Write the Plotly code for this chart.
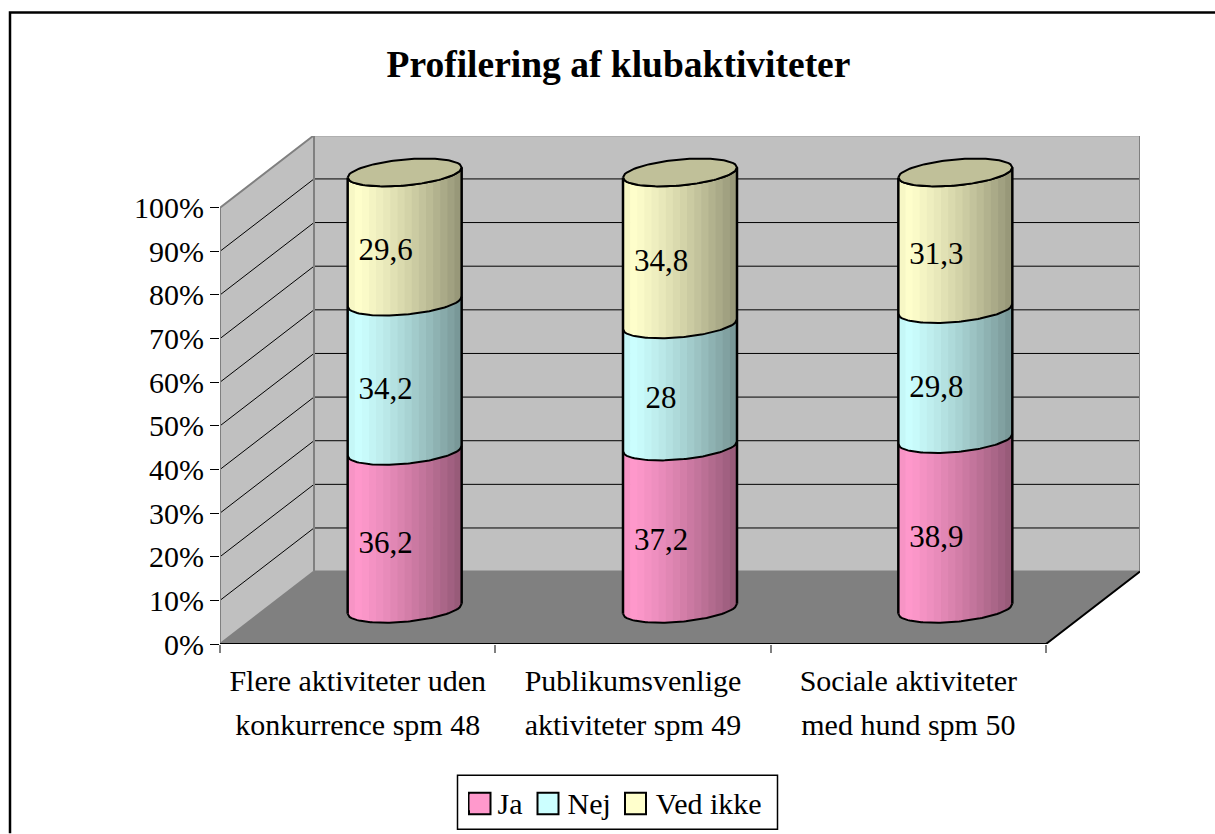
import numpy as np
import plotly.graph_objects as go

TITLE = "Profilering af klubaktiviteter"
CATEGORIES = [["Flere aktiviteter uden", "konkurrence spm 48"],
              ["Publikumsvenlige", "aktiviteter spm 49"],
              ["Sociale aktiviteter", "med hund spm 50"]]
SERIES = ["Ja", "Nej", "Ved ikke"]
JA = [36.2, 37.2, 38.9]
NEJ = [34.2, 28, 29.8]
VED_IKKE = [29.6, 34.8, 31.3]
LABELS = [["36,2", "37,2", "38,9"], ["34,2", "28", "29,8"], ["29,6", "34,8", "31,3"]]
YTICKS = list(range(0, 101, 10))
COLORS = [(255, 153, 204), (204, 255, 255), (255, 255, 204)]
SWATCH = ["#ff99cc", "#ccffff", "#ffffcc"]

W, H = 1215, 834
L, R, T, B = 220, 1140, 135.7, 644.5        # plot box in px
UX = (1046 - 220) / 3                       # px per category
UY = 4.37                                   # px per percent
DX = 94 / UX                                # depth in data units
DY = 72.5 / UY
X0 = -0.5
XMAX = X0 + (R - L) / UX
YMAX = (B - T) / UY
FONT = "Liberation Serif"


def pxx(px):
    return (px - L) / (R - L)


def pxy(py):
    return (B - py) / (B - T)


fig = go.Figure()


def poly(x, y, fill=None, line=None, width=1):
    fig.add_trace(go.Scatter(
        x=x, y=y, mode="lines" if line else "none",
        fill="toself" if fill else None, fillcolor=fill,
        line=dict(color=line or "rgba(0,0,0,0)", width=width),
        hoverinfo="skip", showlegend=False, cliponaxis=False))


# walls and floor
poly([X0 + DX, XMAX, XMAX, X0 + DX, X0 + DX], [DY, DY, 100 + DY, 100 + DY, DY], fill="#c0c0c0")
poly([X0, X0 + DX, X0 + DX, X0, X0], [0, DY, 100 + DY, 100, 0], fill="#c0c0c0")
poly([X0, X0 + 3, XMAX, X0 + DX, X0], [0, 0, DY, DY, 0], fill="#808080")

# gridlines
for v in YTICKS[1:-1]:
    poly([X0, X0 + DX, XMAX], [v, v + DY, v + DY], line="#000000", width=1)

# wall outlines
poly([X0, X0, X0 + DX, XMAX, XMAX], [0, 100, 100 + DY, 100 + DY, DY], line="#808080", width=2)
poly([X0 + DX, X0 + DX, None, X0 + DX, X0], [100 + DY, DY, None, DY, 0], line="#808080", width=2)
poly([X0 + DX, XMAX], [DY, DY], line="#808080", width=2)
poly([X0, X0 + 3, XMAX], [0, 0, DY], line="#000000", width=2)

# cylinders
HW = 57 / UX
A = 5 / UY
BB = 13 / UY
CY = DY / 2 - 1 / UY
N = 16
U = np.linspace(-1, 1, N + 1)
OVERLAP = 0.8 / UX


def front(u, base):
    u = np.asarray(u, float)
    return base + A * u - BB * np.sqrt(np.clip(1 - u * u, 0, 1))


def back(u, base):
    u = np.asarray(u, float)
    return base + A * u + BB * np.sqrt(np.clip(1 - u * u, 0, 1))


def shade(u):
    p = (u + 1) / 2
    if p < 0.08:
        return 0.95 + 0.05 * p / 0.08
    return 1.0 - 0.42 * ((p - 0.08) / 0.92) ** 1.25


STACK = [JA, NEJ, VED_IKKE]
for i in range(len(CATEGORIES)):
    cx = i + DX / 2
    bottom = 0.0
    for s, vals in enumerate(STACK):
        top = bottom + vals[i]
        for k in range(N):
            uu = np.linspace(U[k], U[k + 1], 5)
            f = shade((U[k] + U[k + 1]) / 2)
            c = COLORS[s]
            col = f"rgb({int(c[0]*f)},{int(c[1]*f)},{int(c[2]*f)})"
            xu = cx + HW * uu
            if k < N - 1:
                xu = xu + OVERLAP * np.linspace(0, 1, 5)
            xs = np.r_[xu, xu[::-1]]
            ys = np.r_[front(uu, CY + bottom), front(uu[::-1], CY + top)]
            poly(list(xs) + [xs[0]], list(ys) + [ys[0]], fill=col)
        bottom = top
    # outlines
    uu = np.linspace(-1, 1, 61)
    bottom = 0.0
    poly(cx + HW * uu, front(uu, CY), line="#000000", width=2)
    for s, vals in enumerate(STACK):
        bottom += vals[i]
        poly(cx + HW * uu, front(uu, CY + bottom), line="#000000", width=2)
    poly(list(cx + HW * uu) + list(cx + HW * uu[::-1]),
         list(back(uu, CY + bottom)) + list(front(uu[::-1], CY + bottom)),
         fill="#c0c099", line="#000000", width=2)
    poly([cx - HW, cx - HW], [front(-1, CY), front(-1, CY + bottom)], line="#000000", width=2.5)
    poly([cx + HW, cx + HW], [front(1, CY), front(1, CY + bottom)], line="#000000", width=2.5)

# value labels
for s, vals in enumerate(STACK):
    base = np.sum(STACK[:s], axis=0) if s else np.zeros(3)
    fig.add_trace(go.Scatter(
        x=[i + DX / 2 - 19 / UX for i in range(3)],
        y=[base[i] + vals[i] / 2 + CY - 15 / UY for i in range(3)],
        mode="text", text=LABELS[s],
        textfont=dict(family=FONT, size=31, color="#000000"),
        hoverinfo="skip", showlegend=False, cliponaxis=False))

# legend entries
for name, col in zip(SERIES, SWATCH):
    fig.add_trace(go.Scatter(
        x=[None], y=[None], name=name, mode="markers",
        marker=dict(symbol="square", size=16, color=col, line=dict(width=0))))


def sized(lines):
    return "<br>".join(f'<span style="font-size:30px">{t}</span>' for t in lines)


def px_rect(x0, y0, x1, y1, fill, line_color, width):
    return dict(type="rect", xref="paper", yref="paper", layer="above",
                x0=pxx(x0), x1=pxx(x1), y0=pxy(y1), y1=pxy(y0), fillcolor=fill,
                line=dict(color=line_color, width=width))


legend_shapes = [px_rect(457.5, 776, 777.5, 830, "#ffffff", "#000000", 1.5)]
for (x0, x1), col in zip([(469, 490.5), (537.5, 558.5), (625, 646)], SWATCH):
    legend_shapes.append(px_rect(x0, 793.5, x1, 815, col, "#000000", 2))

frame = dict(type="path", xref="paper", yref="paper", line=dict(color="#000000", width=2.5),
             path=f"M {pxx(10)} {pxy(H)} L {pxx(10)} {pxy(12)} L {pxx(W)} {pxy(12)}")

fig.update_layout(
    width=W, height=H, autosize=False,
    margin=dict(l=L, r=W - R, t=T, b=H - B, pad=0, autoexpand=False),
    paper_bgcolor="#ffffff", plot_bgcolor="rgba(0,0,0,0)",
    font=dict(family=FONT, color="#000000"),
    title=dict(text=f"<b>{TITLE}</b>", xref="paper", yref="container", x=pxx(618.5),
               xanchor="center", y=1 - 64 / H, yanchor="middle",
               font=dict(family=FONT, size=37.5, color="#000000")),
    xaxis=dict(range=[X0, XMAX], tickmode="array", tickvals=[0, 1, 2],
               ticktext=[sized(c) for c in CATEGORIES],
               ticks="", showgrid=False, zeroline=False, showline=False, ticklabelstandoff=12,
               tickfont=dict(family=FONT, size=34, color="#000000"),
               minor=dict(tickmode="array", tickvals=[-0.5, 0.5, 1.5, 2.5], ticks="outside",
                          ticklen=8, tickwidth=1.5, tickcolor="#808080", showgrid=False)),
    yaxis=dict(range=[0, YMAX], tickmode="array", tickvals=YTICKS,
               ticktext=[f"{v}%" for v in YTICKS], ticks="outside", ticklen=9, tickwidth=1,
               tickcolor="#000000", showgrid=False, zeroline=False, showline=False,
               tickfont=dict(family=FONT, size=30, color="#000000")),
    legend=dict(orientation="h", x=pxx(457.5), xanchor="left",
                y=pxy(803), yanchor="middle", borderwidth=0,
                bgcolor="rgba(0,0,0,0)", font=dict(family=FONT, size=30, color="#000000"),
                itemwidth=30, traceorder="normal"),
    shapes=[frame] + legend_shapes,
)
fig.write_html("out.html", config={"displayModeBar": False},
               post_script="document.body.style.margin='0';")
